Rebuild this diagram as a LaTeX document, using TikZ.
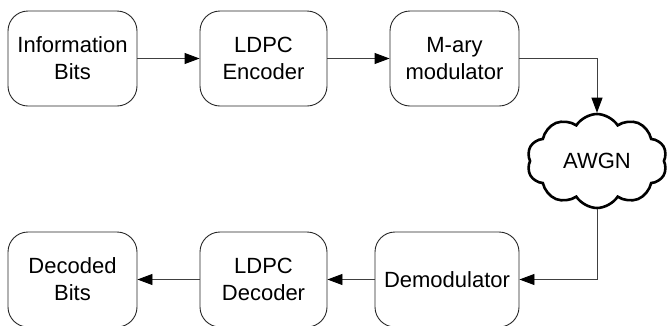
\documentclass[tikz,border=0pt]{standalone}
\usepackage{fontspec}
\setmainfont{Liberation Sans}
\usetikzlibrary{shapes.symbols,arrows.meta}
\begin{document}
\begin{tikzpicture}[x=1pt,y=-1pt,
  blockbox/.style={draw=black!85,line width=0.9pt,rounded corners=20pt,
    minimum height=95pt,align=center,font=\fontsize{22}{27}\selectfont,inner sep=0pt},
  conn/.style={draw=black!75,line width=0.9pt,-{Triangle[length=15pt,width=11pt,color=black]}},
  noise/.style={cloud,cloud puffs=10,cloud puff arc=115,aspect=1.5,draw=black,line width=2.6pt,
    shape border rotate=18,
    minimum width=140pt,minimum height=94pt,font=\fontsize{22}{27}\selectfont,inner sep=0pt}]
\useasboundingbox (0,0) rectangle (670,325);
\clip (0,0) rectangle (670,325);
\node[blockbox,minimum width=129pt] (info) at (72.5,58.5) {Information\\Bits};
\node[blockbox,minimum width=127pt] (enc) at (263.5,58.5) {LDPC\\Encoder};
\node[blockbox,minimum width=129pt] (mod) at (454.5,58.5) {M-ary\\modulator};
\node[noise] (awgn) at (597,161) {AWGN};
\node[blockbox,minimum width=144pt] (demod) at (447,279.5) {Demodulator};
\node[blockbox,minimum width=127pt] (dec) at (263.5,279.5) {LDPC\\Decoder};
\node[blockbox,minimum width=129pt] (out) at (72.5,279.5) {Decoded\\Bits};
\draw[conn] (info) -- (enc);
\draw[conn] (enc) -- (mod);
\draw[conn] (mod.east) -| (awgn.north);
\draw[conn] (awgn.south) |- (demod.east);
\draw[conn] (demod) -- (dec);
\draw[conn] (dec) -- (out);
\end{tikzpicture}
\end{document}
